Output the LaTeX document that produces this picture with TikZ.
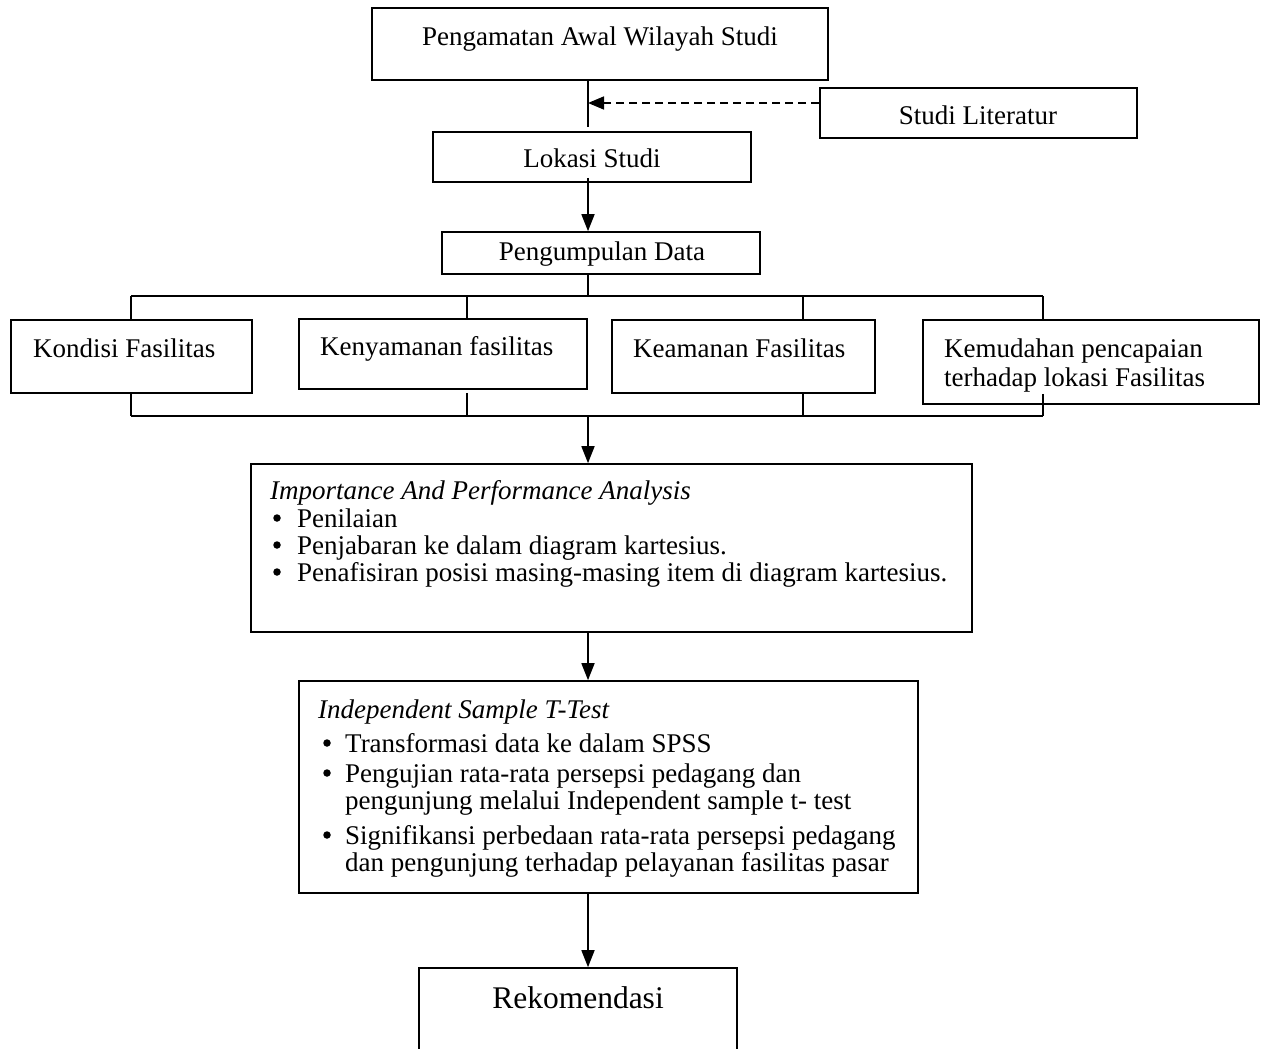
\documentclass[tikz,border=0pt]{standalone}
\usepackage{fontspec}
\setmainfont{Liberation Serif}
\usetikzlibrary{arrows.meta,calc}
\begin{document}
\begin{tikzpicture}[x=1pt,y=-1pt,
  box/.style={draw, line width=1.6pt, inner sep=0pt, rectangle},
  txt/.style={anchor=base west, inner sep=0pt, font=\fontsize{27}{28}\selectfont},
  txtc/.style={txt, anchor=base},
  bul/.style={circle, fill, inner sep=0pt, minimum size=7.5pt},
  wire/.style={line width=1.6pt},
  arr/.style={wire, -{Triangle[width=13pt,length=17pt]}},
  dasharr/.style={wire, dash pattern=on 8pt off 5pt, -{Triangle[width=13pt,length=16pt]}}]

\clip (0,0) rectangle (1261,1049);
\fill[white] (0,0) rectangle (1261,1049);

% trunk line position
\coordinate (t1) at (588,0);

% boxes
\node[box, minimum width=456pt, minimum height=72pt] (obs) at (600,44) {};
\node[box, minimum width=317pt, minimum height=50pt] (lit) at (978.5,113) {};
\node[box, minimum width=318pt, minimum height=50pt] (lok) at (592,157) {};
\node[box, minimum width=318pt, minimum height=42pt] (pd) at (601,253) {};
\node[box, minimum width=241pt, minimum height=73pt] (kon) at (131.5,356.5) {};
\node[box, minimum width=288pt, minimum height=70pt] (ken) at (443,354) {};
\node[box, minimum width=263pt, minimum height=73pt] (kea) at (743.5,356.5) {};
\node[box, minimum width=336pt, minimum height=84pt] (kem) at (1091,362) {};
\node[box, minimum width=721pt, minimum height=168pt] (ipa) at (611.5,548) {};
\node[box, minimum width=619pt, minimum height=212pt] (ist) at (608.5,787) {};
\node[box, minimum width=318pt, minimum height=100pt] (rek) at (578,1018) {};

% box texts
\node[txtc] (obsT) at (600,46) {Pengamatan Awal Wilayah Studi};
\node[txtc] (litT) at (978,124) {Studi Literatur};
\node[txtc] (lokT) at (592,167) {Lokasi Studi};
\node[txtc] (pdT) at (602,260) {Pengumpulan Data};
\node[txt] (konT) at (33,357) {Kondisi Fasilitas};
\node[txt] (kenT) at (320,355) {Kenyamanan fasilitas};
\node[txt] (keaT) at (633,357) {Keamanan Fasilitas};
\node[txt] (kemT1) at (944,357) {Kemudahan pencapaian};
\node[txt] (kemT2) at (944,386) {terhadap lokasi Fasilitas};

\node[txt] (ipaT) at (270,499) {\itshape Importance And Performance Analysis};
\node[bul] (ipaB1) at (277,518) {};
\node[txt] (ipaI1) at (297,527) {Penilaian};
\node[bul] (ipaB2) at (277,545) {};
\node[txt] (ipaI2) at (297,554) {Penjabaran ke dalam diagram kartesius.};
\node[bul] (ipaB3) at (277,572) {};
\node[txt] (ipaI3) at (297,581) {Penafisiran posisi masing-masing item di diagram kartesius.};

\node[txt] (istT) at (318,718) {\itshape Independent Sample T-Test};
\node[bul] (istB1) at (327,743) {};
\node[txt] (istI1) at (345,752) {Transformasi data ke dalam SPSS};
\node[bul] (istB2) at (327,773) {};
\node[txt] (istI2a) at (345,782) {Pengujian rata-rata persepsi pedagang dan};
\node[txt] (istI2b) at (345,809) {pengunjung melalui Independent sample t- test};
\node[bul] (istB3) at (327,835) {};
\node[txt] (istI3a) at (345,844) {Signifikansi perbedaan rata-rata persepsi pedagang};
\node[txt] (istI3b) at (345,871) {dan pengunjung terhadap pelayanan fasilitas pasar};

\node[txtc, font=\fontsize{31.5}{32}\selectfont] (rekT) at (578,1008) {Rekomendasi};

% connectors
\draw[wire] (obs.south -| t1) -- ($(lok.north -| t1)+(0,-4)$);
\draw[dasharr] ($(lit.west)+(0,-10)$) coordinate (d0) -- (d0 -| t1);
\draw[arr] ($(lok.south -| t1)+(0,-5)$) -- (pd.north -| t1);

% distribution bus
\coordinate (bt) at (588,296);
\coordinate (u1) at (131,296);
\coordinate (u2) at (467,296);
\coordinate (u3) at (803,296);
\coordinate (u4) at (1043,296);
\draw[wire] (pd.south -| t1) -- (bt);
\draw[wire] (u1) -- (u4);
\draw[wire] (u1) -- (u1 |- kon.north);
\draw[wire] (u2) -- (u2 |- ken.north);
\draw[wire] (u3) -- (u3 |- kea.north);
\draw[wire] (u4) -- (u4 |- kem.north);

% collecting bus
\coordinate (w1) at (131,416);
\coordinate (w2) at (467,416);
\coordinate (w3) at (803,416);
\coordinate (w4) at (1043,416);
\coordinate (wm) at (588,416);
\draw[wire] (w1) -- (w4);
\draw[wire] (kon.south -| w1) -- (w1);
\draw[wire] ($(ken.south -| w2)+(0,3)$) -- (w2);
\draw[wire] (kea.south -| w3) -- (w3);
\draw[wire] ($(kem.south -| w4)+(0,-11)$) -- (w4);
\draw[arr] (wm) -- (ipa.north -| wm);

\draw[arr] (ipa.south -| t1) -- (ist.north -| t1);
\draw[arr] (ist.south -| t1) -- (rek.north -| t1);
\end{tikzpicture}
\end{document}
